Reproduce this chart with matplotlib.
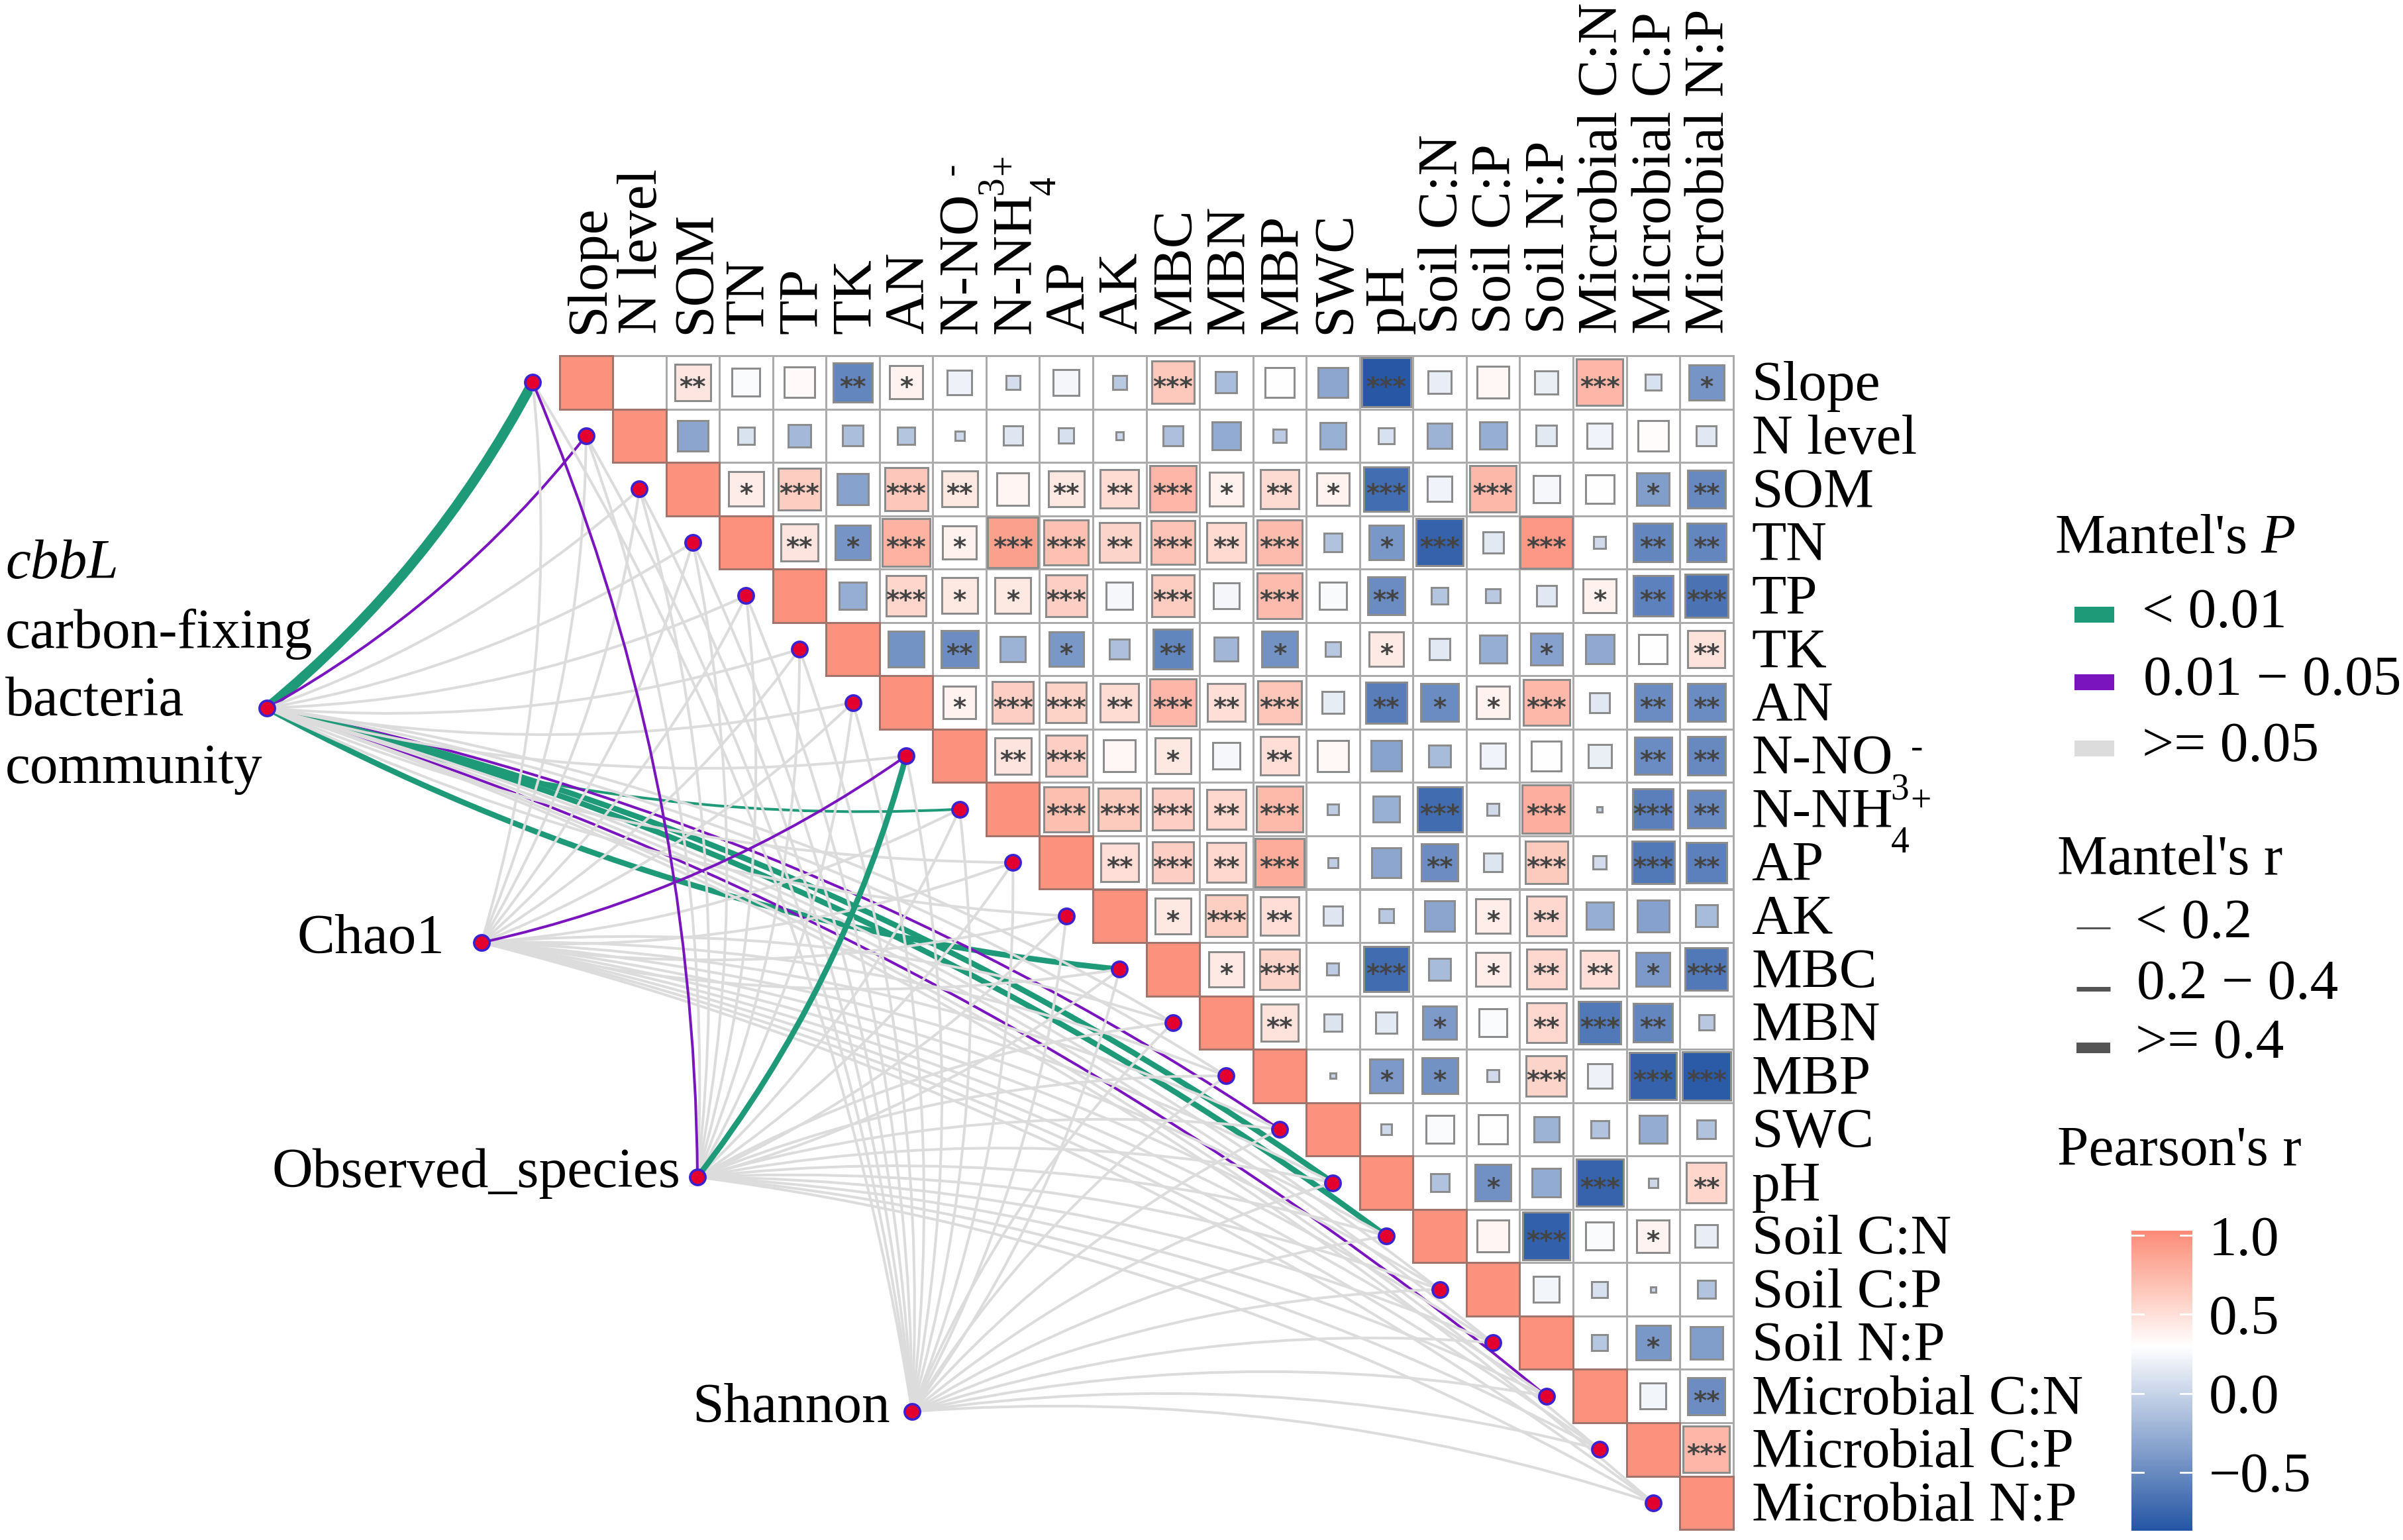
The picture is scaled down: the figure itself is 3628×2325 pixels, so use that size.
# Mantel test links + Pearson correlation triangle
import numpy as np
import matplotlib
matplotlib.use('Agg')
import matplotlib.pyplot as plt
from matplotlib.colors import LinearSegmentedColormap, Normalize
from matplotlib.cm import ScalarMappable
from matplotlib.patches import Rectangle, FancyArrowPatch

plt.rcParams['font.family'] = ['Liberation Serif', 'DejaVu Serif']
plt.rcParams['mathtext.fontset'] = 'custom'
plt.rcParams['mathtext.rm'] = 'Liberation Serif'
plt.rcParams['mathtext.it'] = 'Liberation Serif:italic'
plt.rcParams['mathtext.bf'] = 'Liberation Serif:bold'

# Data
labels = ['Slope', 'N level', 'SOM', 'TN', 'TP', 'TK', 'AN', 'N-NO', 'N-NH',
          'AP', 'AK', 'MBC', 'MBN', 'MBP', 'SWC', 'pH', 'Soil C:N', 'Soil C:P', 'Soil N:P',
          'Microbial C:N', 'Microbial C:P', 'Microbial N:P']
# subscript and superscript of the two ion labels
ions = {7: ('3', '-'), 8: ('4', '+')}

# upper triangle of Pearson's r, row by row, starting right of the diagonal
r_rows = [
    [0, .46, .27, .33, -.53, .38, .21, .07, .24, -.07, .64, -.16, .31, -.31, -.85, .18, .35, .19, .76, .09, -.43],
    [-.32, .1, -.18, -.15, -.1, .03, .13, .08, .02, -.14, -.28, -.06, -.24, .09, -.22, -.26, .15, .22, .32, .14],
    [.42, .62, -.34, .65, .45, .36, .45, .52, .76, .39, .53, .38, -.70, .22, .75, .25, .29, -.37, -.51],
    [.47, -.43, .79, .39, .9, .7, .57, .68, .54, .73, -.12, -.41, -.78, .15, .95, .05, -.53, -.53],
    [-.26, .56, .45, .45, .6, .25, .62, .24, .73, .26, -.49, -.1, -.07, .14, .39, -.56, -.66],
    [-.44, -.48, -.22, -.41, -.14, -.54, -.2, -.45, -.08, .43, .15, -.26, -.35, -.29, .29, .48],
    [.38, .6, .58, .52, .76, .51, .66, .17, -.59, -.49, .38, .75, .14, -.49, -.49],
    [.47, .6, .35, .45, .25, .51, .34, -.33, -.17, .22, .31, .19, -.49, -.51],
    [.71, .63, .6, .55, .74, -.04, -.24, -.71, .05, .81, -.01, -.58, -.5],
    [.51, .6, .55, .83, -.035, -.31, -.48, .12, .63, .06, -.63, -.57],
    [.45, .61, .51, .13, -.07, -.32, .41, .55, -.26, -.35, -.17],
    [.44, .57, -.05, -.71, -.17, .41, .55, .51, -.4, -.63],
    [.48, .11, .16, -.39, .27, .55, -.63, -.53, -.08],
    [-.01, -.4, -.45, .05, .57, .21, -.78, -.83],
    [.04, .27, .29, -.22, -.11, -.27, -.12],
    [-.12, -.46, -.28, -.77, .03, .56],
    [.36, -.79, .27, .37, .18],
    [.23, .09, .01, -.11],
    [-.09, -.41, -.37],
    [.23, -.48],
    [.76],
]

# number of asterisks in the same cells
star_rows = [
    [0, 2, 0, 0, 2, 1, 0, 0, 0, 0, 3, 0, 0, 0, 3, 0, 0, 0, 3, 0, 1],
    [0] * 20,
    [1, 3, 0, 3, 2, 0, 2, 2, 3, 1, 2, 1, 3, 0, 3, 0, 0, 1, 2],
    [2, 1, 3, 1, 3, 3, 2, 3, 2, 3, 0, 1, 3, 0, 3, 0, 2, 2],
    [0, 3, 1, 1, 3, 0, 3, 0, 3, 0, 2, 0, 0, 0, 1, 2, 3],
    [0, 2, 0, 1, 0, 2, 0, 1, 0, 1, 0, 0, 1, 0, 0, 2],
    [1, 3, 3, 2, 3, 2, 3, 0, 2, 1, 1, 3, 0, 2, 2],
    [2, 3, 0, 1, 0, 2, 0, 0, 0, 0, 0, 0, 2, 2],
    [3, 3, 3, 2, 3, 0, 0, 3, 0, 3, 0, 3, 2],
    [2, 3, 2, 3, 0, 0, 2, 0, 3, 0, 3, 2],
    [1, 3, 2, 0, 0, 0, 1, 2, 0, 0, 0],
    [1, 3, 0, 3, 0, 1, 2, 2, 1, 3],
    [2, 0, 0, 1, 0, 2, 3, 2, 0],
    [0, 1, 1, 0, 3, 0, 3, 3],
    [0] * 7,
    [0, 1, 0, 3, 0, 2],
    [0, 3, 0, 1, 0],
    [0] * 4,
    [0, 1, 0],
    [0, 2],
    [3],
]

# Mantel links: p class (0 >=0.05, 1 0.01-0.05, 2 <0.01), r class (0 <0.2, 1 0.2-0.4, 2 >=0.4)
cbbl_p = [2, 1, 0, 0, 0, 0, 0, 0, 2, 0, 0, 2, 0, 0, 1, 2, 2, 0, 0, 1, 0, 0]
cbbl_w = [2, 0, 0, 0, 0, 0, 0, 0, 0, 0, 0, 1, 0, 0, 0, 1, 1, 0, 0, 0, 0, 0]
chao_p = [0, 0, 0, 0, 0, 0, 0, 1, 0, 0, 0, 0, 0, 0, 0, 0, 0, 0, 0, 0, 0, 0]
chao_w = [0] * 22
obs_p = [1, 0, 0, 0, 0, 0, 0, 2, 0, 0, 0, 0, 0, 0, 0, 0, 0, 0, 0, 0, 0, 0]
obs_w = [0, 0, 0, 0, 0, 0, 0, 1, 0, 0, 0, 0, 0, 0, 0, 0, 0, 0, 0, 0, 0, 0]
shan_p = [0] * 22
shan_w = [0] * 22

p_colors = ['#DCDCDC', '#7A14BE', '#1E9A78']
p_labels = ['< 0.01', '0.01 \u2212 0.05', '>= 0.05']
r_labels = ['< 0.2', '0.2 \u2212 0.4', '>= 0.4']
cbar_ticks = [-0.5, 0.0, 0.5, 1.0]

W, H = 3628, 2325
PX = 0.72          # points per pixel at dpi 100
FS = 61.5
x0, y0, cell = 844.5, 537.0, 80.55
link_px = [4, 8.5, 15]

vmin, vmax = -0.87, 1.03
def pos(r):
    return (r - vmin) / (vmax - vmin)

cmap = LinearSegmentedColormap.from_list(
    'pearson', [(0, '#2455A4'), (pos(0.3), '#FFFFFF'), (pos(0.65), '#FDC8BB'), (1, '#FC8C78')])
norm = Normalize(vmin, vmax)

fig = plt.figure(figsize=(W / 100, H / 100), dpi=100)
ax = fig.add_axes([0, 0, 1, 1])
ax.set_xlim(0, W)
ax.set_ylim(H, 0)
ax.axis('off')

# Grid cells and squares
n = len(labels)
for i in range(n):
    for j in range(i, n):
        ax.add_patch(Rectangle((x0 + j * cell, y0 + i * cell), cell, cell, fc='white',
                               ec='#ABABAB', lw=3 * PX, zorder=3))
for i in range(n):
    ax.add_patch(Rectangle((x0 + i * cell, y0 + i * cell), cell, cell, fc=cmap(norm(1.0)),
                           ec='#A0746A', lw=3 * PX, zorder=4))
    for k, r in enumerate(r_rows[i] if i < n - 1 else []):
        if r == 0:
            continue
        j = i + 1 + k
        side = np.sqrt(abs(r)) * cell
        cx = x0 + (j + .5) * cell
        cy = y0 + (i + .5) * cell
        ax.add_patch(Rectangle((cx - side / 2, cy - side / 2), side, side, fc=cmap(norm(r)),
                               ec='#8C8C8C', lw=3 * PX, zorder=5))
        if star_rows[i][k]:
            ax.text(cx, cy + 20, '*' * star_rows[i][k], ha='center', va='baseline',
                    family='DejaVu Sans', weight='bold', fontsize=28, color='#444444', zorder=6)

# Axis labels
main_w = 210
for i, lab in enumerate(labels):
    rx = x0 + 22 * cell + 28
    ry = y0 + (i + .5) * cell + 27
    tx = x0 + (i + .5) * cell + 26
    ax.text(rx, ry, lab, ha='left', va='baseline', fontsize=FS, zorder=7)
    ax.text(tx, 504, lab, rotation=90, rotation_mode='anchor', ha='left', va='baseline',
            fontsize=FS, zorder=7)
    if i in ions:
        sub, sup = ions[i]
        ax.text(rx + main_w, ry + 38, sub, ha='left', va='baseline', fontsize=40, zorder=7)
        ax.text(rx + main_w + 30, ry - 24, sup, ha='left', va='baseline', fontsize=40, zorder=7)
        ax.text(tx + 38, 504 - main_w, sub, rotation=90, rotation_mode='anchor', ha='left',
                va='baseline', fontsize=40, zorder=7)
        ax.text(tx - 24, 504 - main_w - 30, sup, rotation=90, rotation_mode='anchor', ha='left',
                va='baseline', fontsize=40, zorder=7)

# Mantel links
node_x = [x0 + (i - .5) * cell for i in range(n)]
node_y = [y0 + (i + .5) * cell for i in range(n)]
sources = [((403, 1069), cbbl_p, cbbl_w), ((727, 1423), chao_p, chao_w),
           ((1053, 1777), obs_p, obs_w), ((1377, 2131), shan_p, shan_w)]
for s, ((sx, sy), ps, ws) in enumerate(sources):
    for i in range(n):
        rad = 0.1 if i <= 11 else -0.1
        # the first community's coloured links stay under the grey ones, the others go on top
        z = 2.0 if s == 0 and ps[i] > 0 else (2.2 if ps[i] > 0 else 2.1)
        ax.add_patch(FancyArrowPatch((sx, sy), (node_x[i], node_y[i]), arrowstyle='-',
                                     connectionstyle=f'arc3,rad={rad}', shrinkA=0, shrinkB=0,
                                     color=p_colors[ps[i]], lw=link_px[ws[i]] * PX,
                                     capstyle='butt', zorder=z))

all_x = node_x + [s[0][0] for s in sources]
all_y = node_y + [s[0][1] for s in sources]
ax.scatter(all_x, all_y, s=280, c='#E4002E', edgecolors='#3A22D2', linewidths=2.6, zorder=8)

# Source labels
ax.text(8, 873, 'cbbL', style='italic', ha='left', va='baseline', fontsize=FS)
for txt, yy in zip(['carbon-fixing', 'bacteria', 'community'], [978, 1080, 1182]):
    ax.text(8, yy, txt, ha='left', va='baseline', fontsize=FS)
ax.text(671, 1439, 'Chao1', ha='right', va='baseline', fontsize=FS)
ax.text(1027, 1792, 'Observed_species', ha='right', va='baseline', fontsize=FS)
ax.text(1344, 2147, 'Shannon', ha='right', va='baseline', fontsize=FS)

# Legends
ax.text(3102, 835, "Mantel's $\\mathit{P}$", ha='left', va='baseline', fontsize=FS)
for col, lab, yy, tx in zip([p_colors[2], p_colors[1], p_colors[0]], p_labels,
                            [928, 1030, 1130], [3234, 3236, 3234]):
    ax.add_patch(Rectangle((3132, yy - 12), 60, 24, fc=col, ec='none'))
    ax.text(tx, yy + 19, lab, ha='left', va='baseline', fontsize=FS)

ax.text(3106, 1320, "Mantel's r", ha='left', va='baseline', fontsize=FS)
for wd, lab, yy, tx in zip([3, 7, 16], r_labels, [1401, 1493, 1582], [3224, 3226, 3224]):
    ax.plot([3135, 3186], [yy, yy], color='#555555', lw=wd * PX, solid_capstyle='butt')
    ax.text(tx, yy + 15, lab, ha='left', va='baseline', fontsize=FS)

ax.text(3106, 1759, "Pearson's r", ha='left', va='baseline', fontsize=FS)
cax = fig.add_axes([3218 / W, 1 - 2311 / H, 92 / W, 453 / H])
cb = fig.colorbar(ScalarMappable(norm=norm, cmap=cmap), cax=cax, ticks=cbar_ticks)
cb.outline.set_visible(False)
cax.tick_params(length=0, pad=18, labelsize=FS)
for t in cbar_ticks:
    cax.plot([0, .2], [t, t], color='white', lw=2, transform=cax.get_yaxis_transform())
    cax.plot([.8, 1], [t, t], color='white', lw=2, transform=cax.get_yaxis_transform())

fig.savefig('out.png', dpi=100, facecolor='white')
